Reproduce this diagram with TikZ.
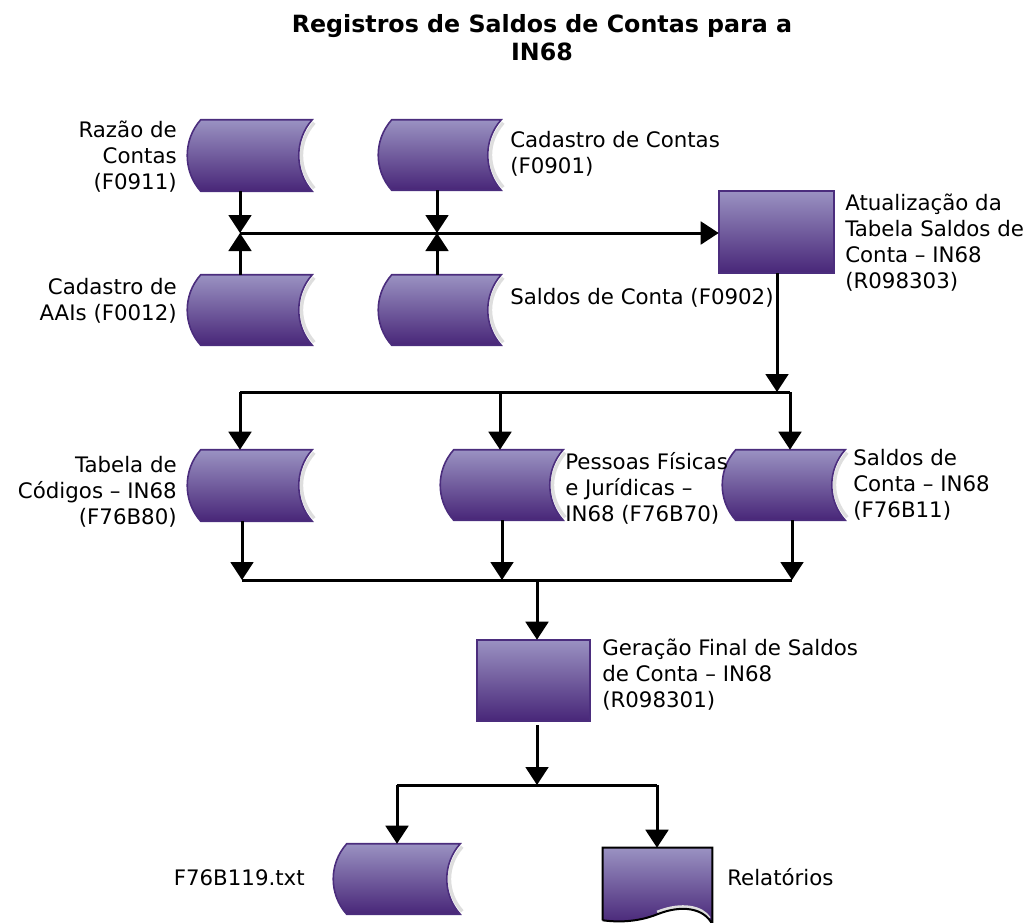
\documentclass[tikz,border=0pt]{standalone}
\usepackage{fontspec}
\setmainfont{DejaVu Sans}
\usetikzlibrary{arrows.meta,calc,fit}
\definecolor{ptop}{RGB}{154,146,194}
\definecolor{pbot}{RGB}{72,38,120}
\definecolor{pedge}{RGB}{75,45,125}
\definecolor{shadowgray}{RGB}{222,222,222}
\tikzset{
  lbl/.style={inner sep=0pt, font=\fontsize{16}{19.5}\selectfont},
  lblL/.style={lbl, align=left, anchor=north west},
  lblR/.style={lbl, align=right, anchor=north east},
  area/.style={inner sep=0pt, draw=none},
  conn/.style={line width=2.25pt},
  arr/.style={conn, -{Triangle[width=17pt,length=13.5pt]}},
  fillp/.style={top color=ptop, bottom color=pbot, draw=pedge, line width=1.2pt},
}
\newcommand\dstore[1]{%
  \draw[shadowgray, line width=2.5pt] ($(#1.north east)+(2,3)$) .. controls ($(#1.north east)+(-15,22)$) and ($(#1.south east)+(-15,-22)$) .. ($(#1.south east)+(2,-3)$);
  \shadedraw[fillp] ($(#1.north west)+(14,0)$) -- (#1.north east)
    .. controls ($(#1.north east)+(-18,20)$) and ($(#1.south east)+(-18,-20)$) .. (#1.south east)
    -- ($(#1.south west)+(14,0)$)
    .. controls ($(#1.south west)+(-4,-20)$) and ($(#1.north west)+(-4,20)$) .. cycle;}
\newcommand\pbox[1]{%
  \shadedraw[fillp] (#1.north west) rectangle (#1.south east);}
\begin{document}
\begin{tikzpicture}[x=0.75pt,y=-0.75pt]
\useasboundingbox (0,0) rectangle (1031,922);
\clip (0,0) rectangle (1031,922);

% title
\node[inner sep=0pt, anchor=north, align=center, font=\fontsize{17.8}{21}\selectfont\bfseries] (title) at (542,13) {\strut Registros de Saldos de Contas para a\\IN68};

% shape areas
\node[area, fit={(187,120) (312,191)}] (razao) {};
\node[area, fit={(378,120) (501,190)}] (cadc) {};
\node[area, fit={(187,275) (312,345)}] (aais) {};
\node[area, fit={(378,275) (501,345)}] (sal02) {};
\node[area, fit={(719,191) (834,273)}] (atual) {};
\node[area, fit={(187,450) (312,521)}] (tabela) {};
\node[area, fit={(440,450) (563,520)}] (pessoas) {};
\node[area, fit={(722,450) (845,520)}] (sal11) {};
\node[area, fit={(477,640) (590,721)}] (geracao) {};
\node[area, fit={(333,844) (460,914)}] (f76) {};
\node[area, fit={(603,848) (712,922)}] (rel) {};

\dstore{razao}
\dstore{cadc}
\dstore{aais}
\dstore{sal02}
\dstore{tabela}
\dstore{pessoas}
\dstore{sal11}
\dstore{f76}
\pbox{atual}
\pbox{geracao}

% document shape
\fill[top color=ptop, bottom color=pbot] (rel.north west) -- (rel.north east) -- ($(rel.south east)+(0,2)$)
  .. controls ($(rel.south east)+(-8,-14)$) and ($(rel.south east)+(-30,-18)$) .. ($(rel.south east)+(-55,-8)$)
  .. controls ($(rel.south east)+(-75,0)$) and ($(rel.south east)+(-95,0)$) .. ($(rel.south west)+(0,-2)$) -- cycle;
\draw[shadowgray, line width=2.5pt] ($(rel.south east)+(-3,-4)$)
  .. controls ($(rel.south east)+(-10,-15)$) and ($(rel.south east)+(-30,-20)$) .. ($(rel.south east)+(-55,-10)$);
\draw[black, line width=1.5pt] ($(rel.south west)+(0,-2)$) -- (rel.north west) -- (rel.north east) -- ($(rel.south east)+(0,2)$)
  .. controls ($(rel.south east)+(-8,-14)$) and ($(rel.south east)+(-30,-18)$) .. ($(rel.south east)+(-55,-8)$)
  .. controls ($(rel.south east)+(-75,0)$) and ($(rel.south east)+(-95,0)$) .. ($(rel.south west)+(0,-2)$);

% labels
\node[lblR] (lrazao) at (177,119) {\strut Razão de\\Contas\\(F0911)};
\node[lblL] (lcadc) at (510,129) {\strut Cadastro de Contas\\(F0901)};
\node[lblR] (laais) at (177,276) {\strut Cadastro de\\AAIs (F0012)};
\node[lblL] (lsal02) at (510,286) {\strut Saldos de Conta (F0902)};
\node[lblL] (latual) at (845,192) {\strut Atualização da\\Tabela Saldos de\\Conta – IN68\\(R098303)};
\node[lblR] (ltabela) at (177,454) {\strut Tabela de\\Códigos – IN68\\(F76B80)};
\node[lblL] (lpessoas) at (565,451) {\strut Pessoas Físicas\\e Jurídicas –\\IN68 (F76B70)};
\node[lblL] (lsal11) at (853,447) {\strut Saldos de\\Conta – IN68\\(F76B11)};
\node[lblL] (lgeracao) at (602,637) {\strut Geração Final de Saldos\\de Conta – IN68\\(R098301)};
\node[lblR] (lf76) at (305,867) {\strut F76B119.txt};
\node[lblL] (lrel) at (727,867) {\strut Relatórios};

% junction points
\coordinate (j1) at (240,233);
\coordinate (j2) at (437,233);
\coordinate (j3) at (777,392);
\coordinate (j4) at (240,392);
\coordinate (j5) at (500,392);
\coordinate (j6) at (790,392);
\coordinate (k1) at (242,580);
\coordinate (k2) at (502,580);
\coordinate (k3) at (792,580);
\coordinate (k4) at (537,580);
\coordinate (m1) at (537,785);
\coordinate (m2) at (397,785);
\coordinate (m3) at (657,785);

% connectors
\draw[arr] (razao.south -| j1) -- (j1);
\draw[arr] (aais.north -| j1) -- (j1);
\draw[arr] (cadc.south -| j2) -- (j2);
\draw[arr] (sal02.north -| j2) -- (j2);
\draw[arr] (j1) -- (j1 -| atual.west);
\draw[arr] (atual.south -| j3) -- (j3);
\draw[conn] (j4) -- (j6);
\draw[arr] (j4) -- (j4 |- tabela.north);
\draw[arr] (j5) -- (j5 |- pessoas.north);
\draw[arr] (j6) -- (j6 |- sal11.north);
\draw[arr] (tabela.south -| k1) -- (k1);
\draw[arr] (pessoas.south -| k2) -- (k2);
\draw[arr] (sal11.south -| k3) -- (k3);
\draw[conn] (k1) -- (k3);
\draw[arr] (k4) -- (k4 |- geracao.north);
\draw[arr, shorten <=3pt] (geracao.south -| m1) -- (m1);
\draw[conn] (m2) -- (m3);
\draw[arr] (m2) -- (m2 |- f76.north);
\draw[arr] (m3) -- (m3 |- rel.north);
\end{tikzpicture}
\end{document}
